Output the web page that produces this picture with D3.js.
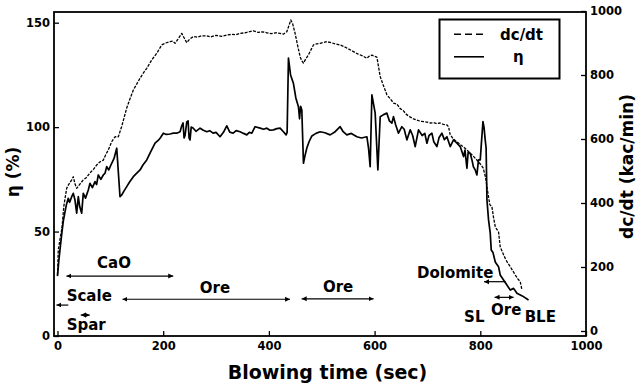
<!DOCTYPE html>
<html><head><meta charset="utf-8">
<script src="https://cdn.jsdelivr.net/npm/d3@7"></script>
<style>
body{margin:0;background:#fff}
svg{display:block}
text{font-family:"DejaVu Sans",sans-serif;font-weight:bold;fill:#000}
</style>
</head><body>
<svg id="c" width="637" height="388"></svg>
<script>
// ---------- data ----------
const xTicks = [0, 200, 400, 600, 800, 1000];
const etaTicks = [0, 50, 100, 150];
const dcTicks = [0, 200, 400, 600, 800, 1000];

// eta (%) vs blowing time (sec) – solid line, left axis
const etaSeries = [[0,28.7],[2.5,36],[4.7,41.2],[8.5,49.8],[11,55],[14.2,59.4],[17,63],[20.4,65.9],[23,64],[26.9,66.7],[29.9,68.3],[33.1,65.1],[36.3,58.8],[39.4,66.7],[42,62],[45.8,58.8],[48.8,68.3],[53,66],[58.3,69.9],[61.5,73.1],[66,71],[71,73.9],[74,72.5],[77.2,77.1],[82,75],[86.7,77.1],[90,78],[93.1,81.1],[97,79.5],[102.6,82.7],[107,85],[112.1,89.9],[118.3,66.7],[121.5,67.5],[126,69.5],[131,71.5],[137,74],[143.5,76.3],[150,78],[156.2,79.5],[162,82],[168.9,84.3],[176,88],[184.6,92.3],[190,93.5],[194.1,94.7],[200.3,97.1],[206,96.5],[213,96.7],[219.2,97.1],[225.7,97.1],[231.9,97.8],[235,100.5],[237.6,102],[239.5,94.8],[241.4,96],[244.6,102.5],[247.1,103],[249,94.8],[250.8,93.9],[253,100],[256.5,99.6],[262,98],[269.8,99.5],[276,98.5],[282.5,97.8],[288,98.3],[294.4,97.1],[300,97.5],[307.6,95.4],[314,97.5],[320.3,100.6],[326,97.6],[332.3,97.1],[338,98.3],[345.5,97.8],[352,97],[358.2,96.3],[363,97.5],[367.7,97.1],[373.9,100.2],[383.4,99.5],[390,99],[396.1,99.5],[402,98.5],[408.6,98.7],[415,99.3],[421.2,99.5],[427.5,97.8],[432.6,96.3],[434.5,97.5],[437,133.1],[441,125],[446.4,121],[451,114],[455.9,109.8],[458,104],[460,110],[462.3,108.2],[465.4,82.7],[468,86],[471.8,90],[476,93],[481.3,95.8],[489,97],[497,97.8],[506,97.3],[515.9,96.3],[524,97.5],[534.8,100.2],[540,98],[547.5,96.3],[556,97],[566.5,95.4],[575,94.8],[585.4,95.4],[588.5,90],[591.6,81.1],[594.9,115.4],[601.1,106.7],[606.2,79.5],[610.6,105],[617,106],[623.3,106.7],[628,103],[632.7,101.9],[635.7,105],[640,101],[645.2,97.1],[651.6,100.2],[656,99],[661.1,93.9],[667.4,98.7],[672,96],[676.8,90.7],[683.1,98.7],[690,96],[695,97],[699,92.3],[703,96],[708.4,97.1],[712,93],[717.9,90.7],[722,95],[727.4,97.1],[732,94],[736.8,95.4],[743.1,90.7],[749.3,93.9],[755.8,92.3],[762,90.7],[768.3,85.9],[771,89],[774.7,80.3],[777,88],[780.9,87.5],[784.2,84.3],[787,81],[790.4,79.5],[793.6,77.1],[796.6,84.3],[799.9,84.3],[802,92],[805,102.6],[807,100],[809.3,93.9],[811,90],[812.6,65.1],[815.6,55.6],[818.8,49.3],[820.7,41.2],[824,40],[828.3,35.4],[834.5,33.2],[837.7,29.2],[844,26.8],[850,24.5],[856.7,22],[863,22.8],[869.3,20.5],[879.4,19.2],[891.3,17.2]];

// dc/dt (kac/min) vs blowing time (sec) – dashed line, right axis
const dcSeries = [[0,175],[1.5,253],[5,290],[8.5,322],[12,390],[17.4,446],[22,460],[26.9,472],[29.9,482],[33,460],[36.3,446],[42,458],[48.8,472],[55,480],[61.5,494],[68,505],[74.2,519],[80,528],[86.7,534],[91,550],[96.2,566],[102.6,592],[108.9,607],[115.1,607],[121.5,639],[131,697],[137,725],[143.5,753],[150,772],[156.2,790],[162,805],[168.9,821],[178.3,847],[187.8,868],[197.3,894],[205,900],[213,904],[218,906],[222.5,899],[228,912],[235.1,930],[240,915],[244.6,901],[250,912],[257.1,920],[265,918],[272,922],[282.5,922],[290,919],[300,924],[310,921],[320.3,925],[330,927],[338,926],[345.5,930],[355,932],[362,935],[370.7,938],[380,933],[388,935],[396.1,932],[405,929],[413,932],[421.2,930],[428,928],[433.9,935],[438,955],[441.5,972],[445,960],[449.6,930],[454,895],[459.1,857],[462,845],[465.4,837],[469,848],[474.8,863],[480,880],[484.3,894],[490,897],[497,899],[504,902],[509.7,904],[518,901],[526,897],[534.8,894],[542,889],[550,882],[560,873],[568,866],[577,860],[585.4,852],[589,858],[594.9,862],[600,858],[604.3,856],[607,830],[610.6,795],[616,770],[623.3,738],[630,725],[636,712],[642.2,709],[648.4,695],[654.7,688],[660,677],[666,670],[673.6,663],[680,659],[688,655],[699,653],[705,650],[711.5,651],[718,648],[724,650],[730,646],[736.8,644],[740,638],[743.1,613],[749,600],[755.8,591],[762,583],[768,575],[774.7,566],[780,557],[786,548],[793.6,534],[800,522],[805.6,509],[810,480],[815,425],[818,395],[822,388],[825,355],[828.3,326],[831,318],[834.5,310],[837.7,263],[842,246],[847.2,227],[851,215],[856.7,201],[860,192],[866.2,175],[871,163],[875.6,154],[878.8,128]];

// annotation labels: text, time, eta-position, anchor
const labels = [["CaO",107,35,"middle"],["Scale",17.4,19.3,"start"],["Spar",17.4,5.3,"start"],["Ore",298,23,"middle"],["Ore",531,23.5,"middle"],["Dolomite",752.5,30.3,"middle"],["Ore",849,12.8,"middle"],["SL",788.6,9.2,"middle"],["BLE",913.5,9.2,"middle"]];
// arrows: from time, to time, eta level, heads
const arrows = [[17,219,28.7,"both"],[20.5,-2,14.8,"end"],[44,61,10,"both"],[123,440,17.6,"both"],[462,598,17.8,"both"],[848,807,26,"end"],[827,863,18.5,"both"]];

const legendItems = [["dc/dt","dash"],["η","solid"]];

// ---------- chart ----------
const svg = d3.select("#c");
const L = 54, R = 586, T = 12, B = 336;
const x = d3.scaleLinear().domain([-6.6, 1000]).range([L, R]);
const yL = d3.scaleLinear().domain([0, 150]).range([B, 22.7]);
const yR = d3.scaleLinear().domain([0, 1000]).range([331, 11]);

const defs = svg.append("defs");
defs.append("marker").attr("id","ah").attr("markerUnits","userSpaceOnUse")
  .attr("markerWidth",6).attr("markerHeight",6).attr("refX",5).attr("refY",3)
  .attr("orient","auto-start-reverse")
  .append("path").attr("d","M0,0.5L5,3L0,5.5Z").attr("fill","#000");

// data lines
const line = (ys) => d3.line().x(d => x(d[0])).y(d => ys(d[1]));
svg.append("path").datum(dcSeries).attr("d", line(yR))
  .attr("fill","none").attr("stroke","#000").attr("stroke-width",1.3)
  .attr("stroke-dasharray","3,1.3").attr("stroke-linejoin","round");
svg.append("path").datum(etaSeries).attr("d", line(yL))
  .attr("fill","none").attr("stroke","#000").attr("stroke-width",1.7)
  .attr("stroke-linejoin","round");

// axes
const fs = "11.5px";
const fmt = d3.format("d");
const gL = svg.append("g").attr("transform",`translate(${L},0)`)
  .call(d3.axisLeft(yL).tickValues(etaTicks).tickFormat(fmt).tickSize(-5).tickPadding(4));
const gB = svg.append("g").attr("transform",`translate(0,${B})`)
  .call(d3.axisBottom(x).tickValues(xTicks).tickFormat(fmt).tickSize(-5).tickPadding(5.5));
const gR = svg.append("g").attr("transform",`translate(${R},0)`)
  .call(d3.axisRight(yR).tickValues(dcTicks).tickFormat(fmt).tickSize(-5).tickPadding(4));
[gL,gB,gR].forEach(g => {
  g.select(".domain").remove();
  g.selectAll("line").attr("stroke","#000").attr("stroke-width",1.3);
  g.selectAll("text").attr("font-size",fs).attr("font-family","DejaVu Sans").attr("font-weight","bold").attr("fill","#000");
});

// frame
svg.append("rect").attr("x",L).attr("y",T).attr("width",R-L).attr("height",B-T)
  .attr("fill","none").attr("stroke","#000").attr("stroke-width",1.8);

// annotations
svg.append("g").selectAll("text").data(labels).join("text")
  .attr("x", d => x(d[1])).attr("y", d => yL(d[2])).attr("dy","0.36em")
  .attr("text-anchor", d => d[3]).attr("font-size","15px").text(d => d[0]);
svg.append("g").selectAll("line").data(arrows).join("line")
  .attr("x1", d => x(d[0])).attr("x2", d => x(d[1]))
  .attr("y1", d => yL(d[2])).attr("y2", d => yL(d[2]))
  .attr("stroke","#000").attr("stroke-width",1.2)
  .attr("marker-end","url(#ah)")
  .attr("marker-start", d => d[3]==="both" ? "url(#ah)" : null);

// legend
const lg = svg.append("g");
lg.append("rect").attr("x",439.5).attr("y",19.5).attr("width",120).attr("height",59)
  .attr("fill","#fff").attr("stroke","#000").attr("stroke-width",2);
legendItems.forEach((it,i) => {
  const yy = 34.3 + i*22.5;
  lg.append("line").attr("x1",454).attr("x2",484).attr("y1",yy).attr("y2",yy)
    .attr("stroke","#000").attr("stroke-width",1.6)
    .attr("stroke-dasharray", it[1]==="dash" ? "7,4" : null);
  lg.append("text").attr("x", i===0 ? 500 : 513).attr("y",yy).attr("dy","0.36em")
    .attr("font-size","15px").text(it[0]);
});

// axis titles
svg.append("text").attr("x",327.5).attr("y",379).attr("text-anchor","middle")
  .attr("font-size","19px").text("Blowing time (sec)");
svg.append("text").attr("transform","translate(19,172) rotate(-90)").attr("text-anchor","middle")
  .attr("font-size","17px").text("η (%)");
svg.append("text").attr("transform","translate(633,166.5) rotate(-90)").attr("text-anchor","middle")
  .attr("font-size","17px").text("dc/dt (kac/min)");
</script>
</body></html>
